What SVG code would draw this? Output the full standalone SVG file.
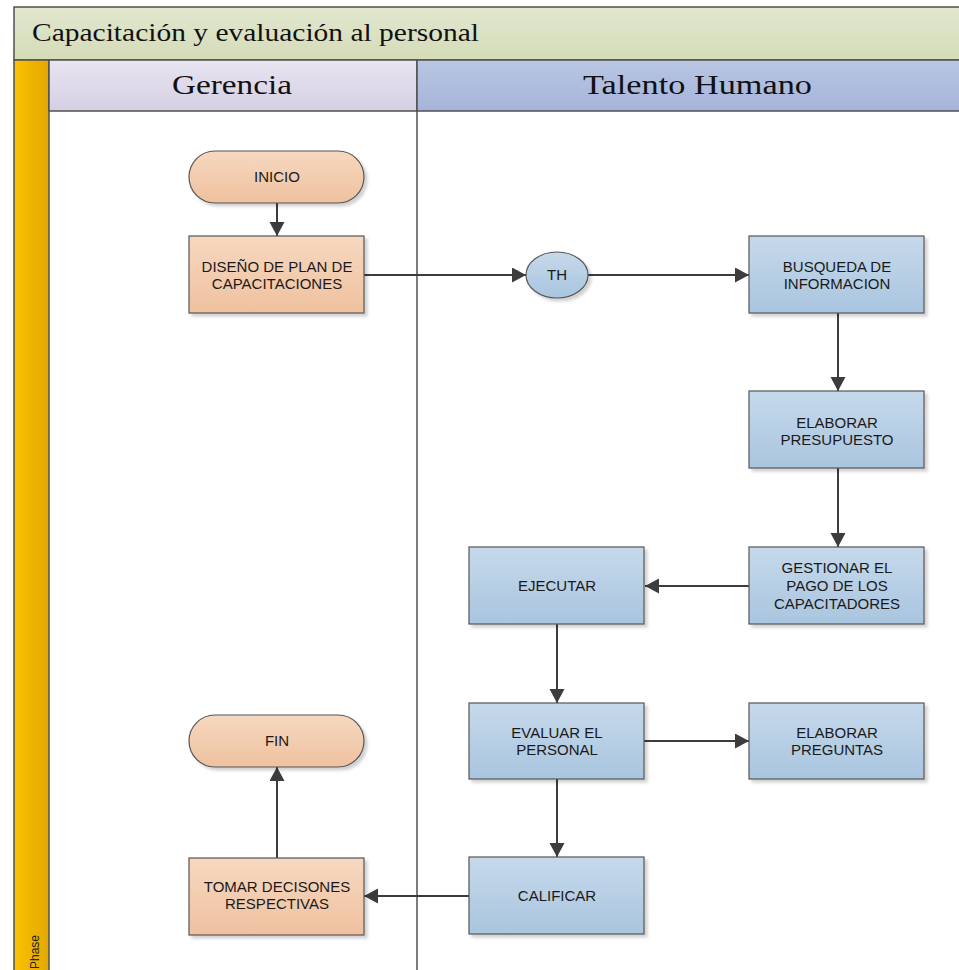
<svg xmlns="http://www.w3.org/2000/svg" width="959" height="970" viewBox="0 0 959 970">
  <defs>
    <linearGradient id="gTitle" x1="0" y1="0" x2="0" y2="1">
      <stop offset="0" stop-color="#e1e7cf"/>
      <stop offset="1" stop-color="#d5dcb7"/>
    </linearGradient>
    <linearGradient id="gGer" x1="0" y1="0" x2="0" y2="1">
      <stop offset="0" stop-color="#e8e4f0"/>
      <stop offset="1" stop-color="#d6cfe4"/>
    </linearGradient>
    <linearGradient id="gTal" x1="0" y1="0" x2="0" y2="1">
      <stop offset="0" stop-color="#b9c6e3"/>
      <stop offset="1" stop-color="#a5b4d9"/>
    </linearGradient>
    <linearGradient id="gPhase" x1="0" y1="0" x2="1" y2="0">
      <stop offset="0" stop-color="#fbc200"/>
      <stop offset="1" stop-color="#e3a700"/>
    </linearGradient>
    <linearGradient id="gOrange" x1="0" y1="0" x2="0" y2="1">
      <stop offset="0" stop-color="#f6d8c0"/>
      <stop offset="1" stop-color="#efc19f"/>
    </linearGradient>
    <linearGradient id="gBlue" x1="0" y1="0" x2="0" y2="1">
      <stop offset="0" stop-color="#c6d9eb"/>
      <stop offset="1" stop-color="#a9c5df"/>
    </linearGradient>
    <filter id="shadow" x="-10%" y="-10%" width="130%" height="140%">
      <feDropShadow dx="3" dy="3" stdDeviation="1.5" flood-color="#000" flood-opacity="0.18"/>
    </filter>
    <marker id="arrow" markerUnits="userSpaceOnUse" markerWidth="16" markerHeight="16" refX="14" refY="7.5" orient="auto">
      <path d="M0,0 L14,7.5 L0,15 z" fill="#3c3c3c"/>
    </marker>
  </defs>
  <style>
    .frame { stroke: #505050; stroke-width: 1.5; }
    .hdr { font-family: "Liberation Serif", "Times New Roman", serif; fill: #111; }
    .orange { fill: url(#gOrange); stroke: #555; stroke-width: 1.2; filter: url(#shadow); }
    .blue { fill: url(#gBlue); stroke: #555; stroke-width: 1.2; filter: url(#shadow); }
    .lbl { font-family: "Liberation Sans", Arial, sans-serif; font-size: 15px; fill: #1a1a1a; text-anchor: middle; }
    .conn { stroke: #3c3c3c; stroke-width: 2; fill: none; marker-end: url(#arrow); }
  </style>

  <rect x="0" y="0" width="959" height="970" fill="#ffffff"/>

  <!-- pool title band -->
  <g id="pool-title">
    <rect class="frame" x="14" y="7" width="960" height="53" fill="url(#gTitle)"/>
    <text class="hdr" x="32" y="41" font-size="26" textLength="447" lengthAdjust="spacingAndGlyphs">Capacitación y evaluación al personal</text>
  </g>

  <!-- phase strip -->
  <g id="phase">
    <rect class="frame" x="14" y="60" width="35" height="915" fill="url(#gPhase)"/>
    <text transform="translate(39,969) rotate(-90)" font-family="Liberation Sans, Arial, sans-serif" font-size="13" fill="#222" textLength="34" lengthAdjust="spacingAndGlyphs">Phase</text>
  </g>

  <!-- lanes -->
  <g id="lane-gerencia">
    <rect class="frame" x="49" y="60" width="368" height="51" fill="url(#gGer)"/>
    <text class="hdr" x="172" y="94" font-size="27" textLength="120" lengthAdjust="spacingAndGlyphs">Gerencia</text>
  </g>
  <g id="lane-talento">
    <rect class="frame" x="417" y="60" width="560" height="51" fill="url(#gTal)"/>
    <text class="hdr" x="583" y="94" font-size="27" textLength="229" lengthAdjust="spacingAndGlyphs">Talento Humano</text>
  </g>
  <line class="frame" x1="417" y1="111" x2="417" y2="975"/>

  <!-- connectors -->
  <g id="connectors">
    <line class="conn" x1="277" y1="203" x2="277" y2="236"/>
    <line class="conn" x1="364" y1="275" x2="526" y2="275"/>
    <line class="conn" x1="588" y1="275" x2="749" y2="275"/>
    <line class="conn" x1="838" y1="313" x2="838" y2="391"/>
    <line class="conn" x1="838" y1="468" x2="838" y2="547"/>
    <line class="conn" x1="749" y1="586" x2="645" y2="586"/>
    <line class="conn" x1="557" y1="624" x2="557" y2="703"/>
    <line class="conn" x1="644" y1="741" x2="749" y2="741"/>
    <line class="conn" x1="557" y1="779" x2="557" y2="857"/>
    <line class="conn" x1="469" y1="896" x2="364" y2="896"/>
    <line class="conn" x1="277" y1="858" x2="277" y2="767"/>
  </g>

  <!-- nodes -->
  <g id="inicio">
    <rect class="orange" x="189" y="151" width="175" height="52" rx="26" ry="26"/>
    <text class="lbl" x="277" y="182">INICIO</text>
  </g>
  <g id="diseno-plan">
    <rect class="orange" x="189" y="236" width="175" height="77"/>
    <text class="lbl" x="277" y="272">DISEÑO DE PLAN DE</text>
    <text class="lbl" x="277" y="289">CAPACITACIONES</text>
  </g>
  <g id="th">
    <ellipse class="blue" cx="557" cy="275" rx="31" ry="23"/>
    <text class="lbl" x="557" y="280">TH</text>
  </g>
  <g id="busqueda">
    <rect class="blue" x="749" y="236" width="175" height="77"/>
    <text class="lbl" x="837" y="272">BUSQUEDA DE</text>
    <text class="lbl" x="837" y="289">INFORMACION</text>
  </g>
  <g id="presupuesto">
    <rect class="blue" x="749" y="391" width="175" height="77"/>
    <text class="lbl" x="837" y="428">ELABORAR</text>
    <text class="lbl" x="837" y="445">PRESUPUESTO</text>
  </g>
  <g id="gestionar">
    <rect class="blue" x="749" y="547" width="175" height="77"/>
    <text class="lbl" x="837" y="573">GESTIONAR EL</text>
    <text class="lbl" x="837" y="591">PAGO DE LOS</text>
    <text class="lbl" x="837" y="609">CAPACITADORES</text>
  </g>
  <g id="ejecutar">
    <rect class="blue" x="469" y="547" width="175" height="77"/>
    <text class="lbl" x="557" y="591">EJECUTAR</text>
  </g>
  <g id="evaluar">
    <rect class="blue" x="469" y="703" width="175" height="76"/>
    <text class="lbl" x="557" y="738">EVALUAR EL</text>
    <text class="lbl" x="557" y="755">PERSONAL</text>
  </g>
  <g id="preguntas">
    <rect class="blue" x="749" y="703" width="175" height="76"/>
    <text class="lbl" x="837" y="738">ELABORAR</text>
    <text class="lbl" x="837" y="755">PREGUNTAS</text>
  </g>
  <g id="fin">
    <rect class="orange" x="189" y="715" width="175" height="52" rx="26" ry="26"/>
    <text class="lbl" x="277" y="746">FIN</text>
  </g>
  <g id="calificar">
    <rect class="blue" x="469" y="857" width="175" height="77"/>
    <text class="lbl" x="557" y="901">CALIFICAR</text>
  </g>
  <g id="tomar-decisiones">
    <rect class="orange" x="189" y="858" width="175" height="77"/>
    <text class="lbl" x="277" y="892">TOMAR DECISONES</text>
    <text class="lbl" x="277" y="909">RESPECTIVAS</text>
  </g>
</svg>
